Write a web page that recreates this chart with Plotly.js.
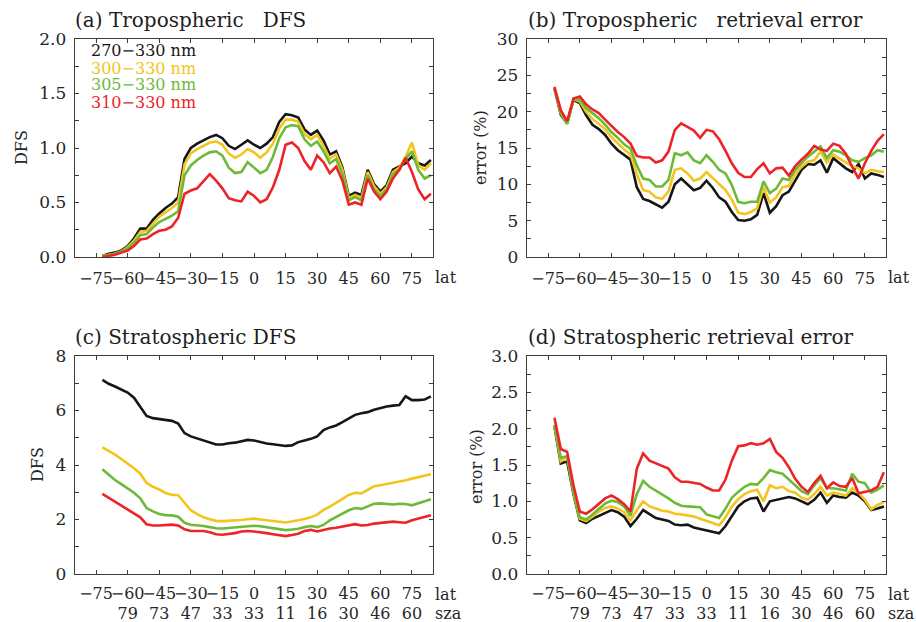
<!DOCTYPE html>
<html>
<head>
<meta charset="utf-8">
<script src="https://cdn.plot.ly/plotly-3.0.1.min.js"></script>
<style>
  html, body { margin: 0; padding: 0; background: #fff; }
  #chart { width: 916px; height: 622px; }
</style>
</head>
<body>
<div id="chart"></div>
<script>
// Latitude grid (degrees) shared by all curves
const lat = [-72,-69,-66,-63,-60,-57,-54,-51,-48,-45,
             -42,-39,-36,-33,-30,-27,-24,-21,-18,-15,
             -12,-9,-6,-3,0,3,6,9,12,15,
             18,21,24,27,30,33,36,39,42,45,
             48,51,54,57,60,63,66,69,72,75,
             78,81,84];

// Fitting windows
const windows = ["270\u2212330 nm", "300\u2212330 nm", "305\u2212330 nm", "310\u2212330 nm"];

// (a) Tropospheric DFS
const tropDfs270 = [0.01,0.03,0.04,0.06,0.10,0.17,0.26,0.26,0.34,0.40,
                    0.45,0.49,0.55,0.90,1.00,1.04,1.07,1.10,1.12,1.09,
                    1.02,0.99,1.03,1.07,1.03,1.00,1.04,1.10,1.24,1.31,
                    1.30,1.28,1.17,1.12,1.16,1.07,0.94,0.97,0.82,0.56,
                    0.59,0.57,0.80,0.67,0.60,0.66,0.80,0.83,0.86,0.92,
                    0.86,0.84,0.89];
const tropDfs300 = [0.01,0.02,0.03,0.05,0.09,0.15,0.23,0.24,0.31,0.37,
                    0.41,0.45,0.50,0.85,0.95,0.99,1.02,1.05,1.06,1.03,
                    0.95,0.91,0.94,0.99,0.96,0.91,0.96,1.04,1.18,1.26,
                    1.26,1.24,1.13,1.08,1.12,1.02,0.90,0.94,0.80,0.54,
                    0.57,0.54,0.78,0.65,0.58,0.64,0.78,0.82,0.92,1.05,
                    0.84,0.80,0.86];
const tropDfs305 = [0.01,0.02,0.03,0.05,0.08,0.13,0.20,0.21,0.27,0.32,
                    0.35,0.38,0.42,0.75,0.84,0.89,0.93,0.96,0.97,0.93,
                    0.82,0.77,0.78,0.87,0.82,0.77,0.80,0.92,1.09,1.19,
                    1.21,1.20,1.08,1.02,1.06,0.97,0.86,0.90,0.76,0.52,
                    0.55,0.52,0.75,0.62,0.56,0.62,0.76,0.80,0.90,0.97,
                    0.80,0.72,0.75];
const tropDfs310 = [0.00,0.01,0.02,0.04,0.06,0.10,0.16,0.17,0.21,0.24,
                    0.25,0.28,0.36,0.58,0.61,0.63,0.70,0.76,0.70,0.63,
                    0.54,0.52,0.51,0.60,0.56,0.50,0.53,0.64,0.80,1.03,
                    1.05,1.00,0.88,0.80,0.93,0.87,0.77,0.83,0.70,0.48,
                    0.50,0.48,0.72,0.60,0.53,0.60,0.72,0.80,0.91,0.78,
                    0.62,0.53,0.58];

// (b) Tropospheric retrieval error (%)
const tropErr270 = [23.2,19.6,18.4,21.6,21.2,19.5,18.2,17.6,16.8,15.6,
                    14.7,14.0,13.4,9.6,8.0,7.7,7.2,6.8,7.6,10.0,
                    10.8,10.0,9.2,9.5,10.5,9.5,8.2,7.6,6.2,5.1,
                    5.0,5.2,5.8,8.8,6.1,7.0,8.5,9.0,10.5,12.0,
                    12.8,12.7,13.3,11.6,13.6,12.9,12.2,11.7,12.8,10.8,
                    11.5,11.3,11.0];
const tropErr300 = [23.2,19.8,18.4,21.7,21.4,20.0,19.0,18.3,17.6,16.5,
                    15.6,14.8,14.1,11.4,9.2,9.0,8.2,8.0,9.0,12.0,
                    12.2,11.5,10.5,10.8,11.7,10.9,10.1,9.2,7.9,6.1,
                    5.9,6.2,6.7,9.6,7.5,8.2,9.6,9.8,11.4,12.4,
                    13.1,13.3,14.5,13.0,14.1,13.5,13.0,12.5,12.2,11.5,
                    12.0,11.8,11.7];
const tropErr305 = [23.2,19.9,18.3,21.8,21.6,20.5,19.8,19.1,18.2,17.2,
                    16.4,15.5,14.9,12.6,10.8,10.6,9.7,9.7,10.6,14.3,
                    14.0,14.4,13.3,12.9,14.0,13.1,12.0,11.5,9.9,7.6,
                    7.4,7.6,7.6,10.4,8.8,9.4,10.8,10.6,12.0,12.9,
                    13.8,14.5,15.2,13.6,14.7,14.5,14.0,13.3,13.1,13.6,
                    14.0,14.7,14.5];
const tropErr310 = [23.4,20.2,18.7,21.8,22.1,21.0,20.3,19.8,18.9,18.0,
                    17.2,16.5,15.6,13.9,13.7,13.7,13.0,13.3,14.5,17.5,
                    18.4,17.9,17.4,16.4,17.5,17.3,16.2,14.6,12.9,11.6,
                    11.0,11.0,12.1,12.9,11.5,12.2,12.3,11.2,12.5,13.4,
                    14.2,15.3,14.8,14.6,15.6,15.3,14.2,12.4,10.8,12.9,
                    14.6,16.0,16.9];

// (c) Stratospheric DFS
const stratDfs270 = [7.12,6.98,6.88,6.76,6.66,6.47,6.12,5.80,5.72,5.68,
                     5.64,5.62,5.52,5.17,5.05,4.98,4.90,4.83,4.75,4.75,
                     4.80,4.82,4.88,4.92,4.90,4.84,4.79,4.76,4.73,4.70,
                     4.72,4.84,4.90,4.96,5.05,5.28,5.38,5.45,5.57,5.72,
                     5.84,5.90,5.94,6.03,6.10,6.15,6.18,6.20,6.52,6.38,
                     6.38,6.40,6.52];
const stratDfs300 = [4.65,4.52,4.38,4.22,4.06,3.88,3.68,3.34,3.20,3.10,
                     2.97,2.91,2.89,2.60,2.34,2.20,2.08,2.01,1.95,1.94,
                     1.95,1.96,1.98,2.01,2.03,2.00,1.98,1.95,1.92,1.89,
                     1.92,1.97,2.02,2.08,2.18,2.35,2.47,2.60,2.76,2.90,
                     2.98,2.96,3.08,3.22,3.26,3.30,3.34,3.38,3.44,3.50,
                     3.56,3.60,3.66];
const stratDfs305 = [3.84,3.64,3.45,3.30,3.14,2.98,2.78,2.42,2.30,2.20,
                     2.16,2.15,2.10,1.88,1.81,1.79,1.76,1.72,1.68,1.67,
                     1.69,1.72,1.74,1.76,1.77,1.75,1.72,1.68,1.64,1.61,
                     1.63,1.66,1.72,1.76,1.72,1.80,1.97,2.10,2.22,2.34,
                     2.42,2.39,2.48,2.58,2.59,2.57,2.55,2.58,2.57,2.52,
                     2.60,2.67,2.74];
const stratDfs310 = [2.94,2.80,2.64,2.50,2.36,2.22,2.08,1.82,1.78,1.78,
                     1.79,1.81,1.78,1.64,1.58,1.59,1.58,1.53,1.46,1.44,
                     1.47,1.50,1.56,1.58,1.56,1.54,1.50,1.46,1.42,1.39,
                     1.43,1.48,1.58,1.62,1.56,1.62,1.67,1.70,1.74,1.80,
                     1.83,1.78,1.80,1.85,1.88,1.90,1.92,1.90,1.88,1.97,
                     2.04,2.09,2.16];

// (d) Stratospheric retrieval error (%)
const stratErr270 = [2.03,1.52,1.55,1.10,0.74,0.70,0.76,0.80,0.85,0.88,
                     0.85,0.79,0.66,0.76,0.88,0.82,0.77,0.75,0.73,0.68,
                     0.67,0.68,0.64,0.62,0.60,0.58,0.56,0.66,0.80,0.93,
                     1.00,1.04,1.05,0.86,1.00,1.02,1.03,1.06,1.04,1.00,
                     0.96,1.02,1.12,0.98,1.08,1.06,1.05,1.12,1.08,1.00,
                     0.88,0.90,0.93];
const stratErr300 = [2.05,1.55,1.62,1.12,0.76,0.73,0.79,0.86,0.91,0.93,
                     0.90,0.85,0.74,0.88,1.00,0.93,0.90,0.87,0.86,0.83,
                     0.82,0.81,0.79,0.76,0.73,0.71,0.67,0.78,0.93,1.03,
                     1.10,1.14,1.16,1.00,1.22,1.18,1.20,1.14,1.12,1.05,
                     1.02,1.10,1.20,1.08,1.12,1.10,1.08,1.18,1.12,1.02,
                     0.89,0.95,0.99];
const stratErr305 = [2.05,1.60,1.62,1.14,0.78,0.75,0.82,0.90,0.97,1.01,
                     0.99,0.93,0.80,1.10,1.28,1.20,1.15,1.10,1.04,0.98,
                     0.94,0.93,0.93,0.92,0.82,0.80,0.77,0.90,1.05,1.13,
                     1.20,1.24,1.23,1.32,1.43,1.40,1.38,1.30,1.22,1.14,
                     1.10,1.22,1.32,1.18,1.18,1.17,1.15,1.38,1.27,1.25,
                     1.12,1.16,1.22];
const stratErr310 = [2.15,1.72,1.68,1.22,0.86,0.83,0.89,0.96,1.04,1.08,
                     1.03,0.96,0.86,1.45,1.66,1.56,1.52,1.49,1.45,1.33,
                     1.27,1.27,1.25,1.24,1.19,1.15,1.15,1.30,1.56,1.76,
                     1.77,1.80,1.78,1.80,1.86,1.68,1.60,1.47,1.31,1.20,
                     1.13,1.25,1.35,1.18,1.26,1.21,1.20,1.32,1.11,1.13,
                     1.15,1.20,1.40];

// Tick labels: latitude, and solar zenith angle beneath it on the lower row
const latTicks = [-75,-60,-45,-30,-15,0,15,30,45,60,75];
const latLabels = ["\u221275","\u221260","\u221245","\u221230","\u221215","0","15","30","45","60","75"];
const szaLabels = ["","79","73","47","33","33","11","16","30","46","60"];

const colors = ["#161616", "#f3c41c", "#6cba38", "#ec2428"];

const panels = [
  {xa: "x",  ya: "y",  series: [tropDfs270, tropDfs300, tropDfs305, tropDfs310]},
  {xa: "x2", ya: "y2", series: [tropErr270, tropErr300, tropErr305, tropErr310]},
  {xa: "x3", ya: "y3", series: [stratDfs270, stratDfs300, stratDfs305, stratDfs310]},
  {xa: "x4", ya: "y4", series: [stratErr270, stratErr300, stratErr305, stratErr310]}
];

const traces = [];
panels.forEach(p => {
  p.series.forEach((vals, i) => {
    traces.push({
      type: "scatter", mode: "lines",
      x: lat, y: vals, name: windows[i],
      xaxis: p.xa, yaxis: p.ya,
      line: {color: colors[i], width: 2.6},
      hoverinfo: "x+y+name"
    });
  });
});

const W = 916, H = 622;
const px = v => v / W;
const py = v => 1 - v / H;

const FONT = "DejaVu Serif";
const axisBase = {
  showline: true, linecolor: "#3c3c3c", linewidth: 1.3, mirror: "ticks",
  ticks: "inside", ticklen: 4, tickwidth: 1, tickcolor: "#3c3c3c",
  showgrid: false, zeroline: false,
  tickfont: {family: FONT, size: 17, color: "#262626"}
};

function xAxis(domain, anchor, withSza) {
  return Object.assign({}, axisBase, {
    domain: domain, anchor: anchor, range: [-85, 85],
    tickmode: "array", tickvals: latTicks, tickangle: 0,
    ticktext: withSza ? latLabels.map((t, i) => szaLabels[i] ? t + "<br>" + szaLabels[i] : t) : latLabels,
    tickfont: {family: FONT, size: 16, color: "#262626"},
    ticklabelstandoff: withSza ? 4 : 6
  });
}
function yAxis(domain, anchor, range, dtick, minor, fmt) {
  return Object.assign({}, axisBase, {
    domain: domain, anchor: anchor, range: range, dtick: dtick, tick0: 0,
    tickformat: fmt, ticklabelstandoff: 4,
    minor: {dtick: minor, tick0: 0, ticks: "inside", ticklen: 4, tickcolor: "#3c3c3c", showgrid: false}
  });
}

const colL = [px(75), px(433)], colR = [px(527), px(886)];
const rowT = [py(257), py(39)], rowB = [py(574), py(356)];

const titleFont = {family: FONT, size: 20, color: "#1e1e1e"};
const labelFont = {family: FONT, size: 16, color: "#262626"};

const annotations = [
  {text: "(a) Tropospheric\u00a0\u00a0 DFS", x: px(73), y: py(20)},
  {text: "(b) Tropospheric\u00a0\u00a0 retrieval error", x: px(526), y: py(20)},
  {text: "(c) Stratospheric DFS", x: px(73), y: py(337)},
  {text: "(d) Stratospheric retrieval error", x: px(526), y: py(337)}
].map(a => Object.assign({xref: "paper", yref: "paper", xanchor: "left", yanchor: "middle",
                          showarrow: false, font: titleFont}, a));

// axis names beside the tick labels
[
  {text: "lat", x: px(446), y: py(277)},
  {text: "lat", x: px(899), y: py(277)},
  {text: "lat", x: px(446), y: py(594)},
  {text: "sza", x: px(448), y: py(613)},
  {text: "lat", x: px(899), y: py(594)},
  {text: "sza", x: px(901), y: py(613)}
].forEach(a => annotations.push(Object.assign({xref: "paper", yref: "paper", xanchor: "center",
  yanchor: "middle", showarrow: false, font: labelFont}, a)));

// y-axis titles
[
  {text: "DFS", x: px(21), y: py(148)},
  {text: "error (%)", x: px(480), y: py(148)},
  {text: "DFS", x: px(37), y: py(465)},
  {text: "error (%)", x: px(476), y: py(467)}
].forEach(a => annotations.push(Object.assign({xref: "paper", yref: "paper", xanchor: "center",
  yanchor: "middle", textangle: -90, showarrow: false, font: labelFont}, a)));

// legend of fitting windows inside panel (a)
windows.forEach((w, i) => annotations.push({
  text: w, xref: "paper", yref: "paper", x: px(89), y: py(51 + i * 17),
  xanchor: "left", yanchor: "middle", showarrow: false,
  font: {family: FONT, size: 16, color: colors[i]}
}));

const layout = {
  width: W, height: H,
  margin: {l: 0, r: 0, t: 0, b: 0},
  paper_bgcolor: "#ffffff", plot_bgcolor: "#ffffff",
  showlegend: false,
  font: {family: FONT, size: 16, color: "#262626"},
  xaxis:  xAxis(colL, "y", false),
  yaxis:  yAxis(rowT, "x", [0, 2.0], 0.5, 0.25, ".1f"),
  xaxis2: xAxis(colR, "y2", false),
  yaxis2: yAxis(rowT, "x2", [0, 30], 5, 2.5, "d"),
  xaxis3: xAxis(colL, "y3", true),
  yaxis3: yAxis(rowB, "x3", [0, 8], 2, 1, "d"),
  xaxis4: xAxis(colR, "y4", true),
  yaxis4: yAxis(rowB, "x4", [0, 3.0], 0.5, 0.25, ".1f"),
  annotations: annotations
};

Plotly.newPlot("chart", traces, layout, {staticPlot: true, displayModeBar: false});
</script>
</body>
</html>
